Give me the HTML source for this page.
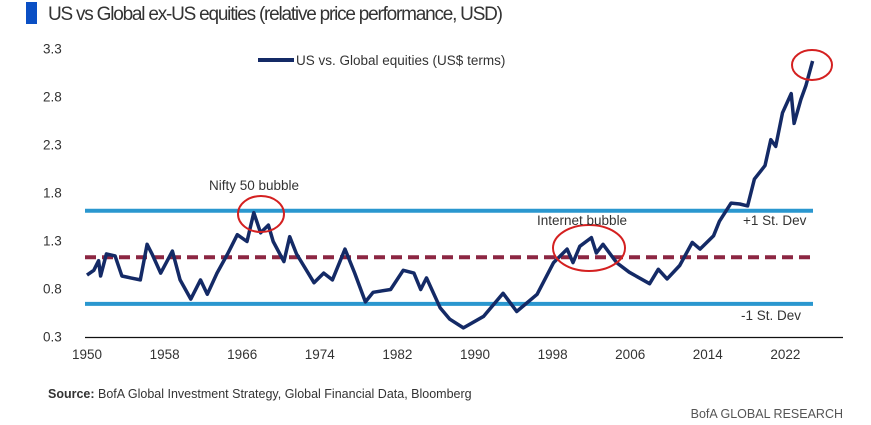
<!DOCTYPE html>
<html><head><meta charset="utf-8"><style>
body{margin:0;background:#fff;font-family:"Liberation Sans",sans-serif;}
#wrap{position:relative;width:871px;height:425px;overflow:hidden;}
</style></head><body>
<div id="wrap">
<svg id="chart" width="871" height="425">
  <rect x="26" y="2" width="11" height="22" fill="#0a4fc4"/>
  <text x="48" y="20" font-size="19" fill="#333" textLength="455">US vs Global ex-US equities (relative price performance, USD)</text>
  <g id="axes"></g>
  <g id="marks"></g>
  <line x1="258" y1="60" x2="294" y2="60" stroke="#142a66" stroke-width="4"/>
  <text x="296" y="65" font-size="13.5" fill="#333">US vs. Global equities (US$ terms)</text>
  <text x="209" y="190" font-size="13.5" fill="#333">Nifty 50 bubble</text>
  <text x="537" y="225" font-size="13.5" fill="#333">Internet bubble</text>
  <text x="743" y="225" font-size="13.5" fill="#333">+1 St. Dev</text>
  <text x="741" y="320" font-size="13.5" fill="#333">-1 St. Dev</text>
  <text x="48" y="398" font-size="12.5" fill="#333"><tspan font-weight="bold">Source:</tspan> BofA Global Investment Strategy, Global Financial Data, Bloomberg</text>
  <text x="843" y="418" font-size="12.5" fill="#555" text-anchor="end">BofA GLOBAL RESEARCH</text>
</svg>
</div>
<script>
const years=[1950,1950.7,1951.2,1951.4,1952,1952.9,1953.6,1954.5,1955.5,1956.2,1956.7,1957.6,1958.8,1959.6,1960.7,1961.7,1962.4,1963.4,1964.5,1965.5,1966.5,1967.2,1967.9,1968.7,1969.2,1970.3,1970.9,1971.6,1973.4,1974.4,1975.3,1976.6,1977.6,1978.7,1979.5,1981.3,1982.6,1983.7,1984.4,1985.0,1986.4,1987.4,1988.8,1990.9,1992.9,1994.3,1996.4,1998.1,1999.5,2000.1,2000.8,2002,2002.5,2003.2,2004.6,2005.9,2008,2008.9,2009.8,2011.1,2012.4,2013.2,2014.6,2015.2,2016.4,2017.3,2018.1,2018.8,2019.9,2020.5,2021,2021.7,2022.6,2022.9,2023.6,2024.1,2024.8];
const values=[0.94,0.99,1.09,0.93,1.16,1.14,0.93,0.91,0.89,1.26,1.16,0.96,1.19,0.89,0.69,0.89,0.74,0.96,1.16,1.36,1.29,1.59,1.38,1.46,1.29,1.08,1.34,1.16,0.86,0.96,0.89,1.21,0.96,0.66,0.76,0.79,0.99,0.96,0.79,0.91,0.6,0.48,0.39,0.51,0.75,0.56,0.74,1.07,1.21,1.07,1.24,1.33,1.17,1.26,1.07,0.97,0.85,1.0,0.9,1.04,1.28,1.21,1.35,1.5,1.69,1.68,1.66,1.94,2.08,2.35,2.28,2.63,2.83,2.52,2.77,2.91,3.17];
const yTicks=[0.3,0.8,1.3,1.8,2.3,2.8,3.3];
const xTicks=[1950,1958,1966,1974,1982,1990,1998,2006,2014,2022];
const plusSD=[1.61], meanLine=[1.126], minusSD=[0.64];
const ns='http://www.w3.org/2000/svg';
const X=y=>87+(y-1950)*9.7;
const Y=v=>336.5-(v-0.3)*96;
const axes=document.getElementById('axes'), marks=document.getElementById('marks');
function mk(tag,attrs,parent){const e=document.createElementNS(ns,tag);for(const k in attrs)e.setAttribute(k,attrs[k]);parent.appendChild(e);return e;}
yTicks.forEach(t=>{const e=mk('text',{x:43,y:Y(t)+5,'font-size':13.5,fill:'#333'},axes);e.textContent=t.toFixed(1);

});
xTicks.forEach(t=>{const e=mk('text',{x:X(t),y:359,'font-size':13.5,fill:'#333','text-anchor':'middle'},axes);e.textContent=t;

});
const ax=mk('line',{x1:85,y1:337.5,x2:843,y2:337.5,stroke:'#111','stroke-width':1.3},axes);


function hline(v,color,dash,name){const l=mk('line',{x1:85,x2:813,y1:Y(v),y2:Y(v),stroke:color,'stroke-width':4},marks);if(dash)l.setAttribute('stroke-dasharray',dash);

}
hline(plusSD[0],'#2a97cf',null,'plus-sd-line');
hline(minusSD[0],'#2a97cf',null,'minus-sd-line');
hline(meanLine[0],'#8c2642','11 6','mean-line');
const d=years.map((y,i)=>(i?'L':'M')+X(y).toFixed(1)+','+Y(values[i]).toFixed(1)).join('');
const p=mk('path',{d:d,fill:'none',stroke:'#142a66','stroke-width':3.5,'stroke-linejoin':'round'},marks);


function circ(cx,cy,rx,ry,name){const c=mk('ellipse',{cx:cx,cy:cy,rx:rx,ry:ry,fill:'none',stroke:'#d42020','stroke-width':2},marks);

}
circ(261,214,23,18,'nifty-circle');
circ(589,248,36,23,'internet-circle');
circ(812,65,20,15,'latest-circle');
</script>
</body></html>
